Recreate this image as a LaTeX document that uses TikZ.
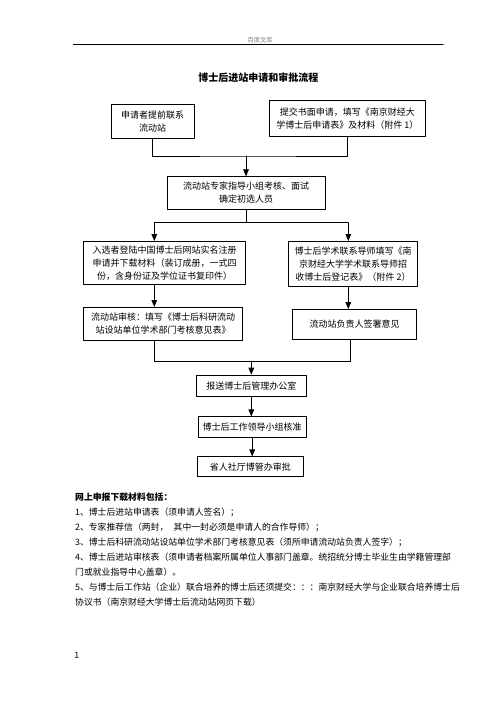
\documentclass[tikz,border=0pt]{standalone}
\usepackage{fontspec}
\setmainfont{Noto Sans CJK SC}
\usetikzlibrary{arrows}
\usetikzlibrary{positioning}
\begin{document}
\begin{tikzpicture}[line cap=round,line join=round,>=triangle 45,x=1.2pt,y=-1.2pt,
  box/.style={draw,line width=0.9pt,inner sep=1pt,align=center,font=\fontsize{10.8}{15.5}\selectfont},
  link/.style={line width=0.9pt}]
\useasboundingbox (0,0) rectangle (496,702);
\node (hdr) at (260,40) {\color{gray}\fontsize{7.5}{8}\selectfont 百度文库};
\draw[line width=0.8pt] (73.3,44.3) -- (443.3,44.3);
\node (title) at (258.3,77.3) {\bfseries\fontsize{12}{14}\selectfont 博士后进站申请和审批流程};
% boxes of the flow
\node[box,minimum width=100pt,minimum height=41.2pt] (contact) at (152.7,121.2) {申请者提前联系\\流动站};
\node[box,minimum width=188pt,minimum height=44pt] (apply) at (347.3,118.3) {提交书面申请，填写《南京财经大\\学博士后申请表》及材料（附件 1）};
\node[box,minimum width=189.6pt,minimum height=38.8pt] (panel) at (246,192.8) {流动站专家指导小组考核、面试\\确定初选人员};
\node[box,minimum width=194.8pt,minimum height=51.6pt] (register) at (164.5,262.8) {入选者登陆中国博士后网站实名注册\\申请并下载材料（装订成册，一式四\\份，含身份证及学位证书复印件）};
\node[box,minimum width=155.2pt,minimum height=54.5pt] (tutor) at (353,264) {博士后学术联系导师填写《南\\京财经大学学术联系导师招\\收博士后登记表》（附件 2）};
\node[box,minimum width=191.2pt,minimum height=40.1pt] (audit) at (163,324) {流动站审核：填写《博士后科研流动\\站设站单位学术部门考核意见表》};
\node[box,minimum width=149.2pt,minimum height=35.6pt] (sign) at (354.5,324.2) {流动站负责人签署意见};
\node[box,minimum width=132.8pt,minimum height=26pt] (office) at (251.3,385.8) {报送博士后管理办公室};
\node[box,minimum width=129.2pt,minimum height=24.7pt] (group) at (252.2,427) {博士后工作领导小组核准};
\node[box,minimum width=127.2pt,minimum height=24pt] (province) at (250.3,466.7) {省人社厅博管办审批};
% joints
\coordinate (j1) at (246,156);
\coordinate (j2) at (246,222.7);
\coordinate (j2l) at (154.3,222.7);
\coordinate (j2r) at (348.3,222.7);
\coordinate (j3) at (251.3,361);
\coordinate (j3l) at (154.3,361);
\coordinate (j3r) at (350.3,361);
% connectors
\draw[link] (contact.south) |- (j1) -| (apply.south);
\draw[link,->] (j1) -- (panel.north);
\draw[link] (panel.south) -- (j2);
\draw[link] (j2l) -- (j2r);
\draw[link,->] (j2l) -- (j2l |- register.north);
\draw[link,->] (j2r) -- (j2r |- tutor.north);
\draw[link,->] (j2l |- register.south) -- (j2l |- audit.north);
\draw[link,->] (j2r |- tutor.south) -- (j2r |- sign.north);
\draw[link] (j2l |- audit.south) -- (j3l) -- (j3r) -- (j3r |- sign.south);
\draw[link,->] (j3) -- (j3 |- office.north);
\draw[link,->] (office.south) -- (office.south |- group.north);
\draw[link,->] (group.south) -- (group.south |- province.north);
% list of materials
\node[anchor=north west,inner sep=0pt,align=left,font=\fontsize{10.6}{18}\selectfont] (materials) at (75,492.5) {\textbf{网上申报下载材料包括：}\\
1、博士后进站申请表（须申请人签名）；\\
2、专家推荐信（两封，\hspace{0.6em}其中一封必须是申请人的合作导师）；\\
3、博士后科研流动站设站单位学术部门考核意见表（须所申请流动站负责人签字）；\\
4、博士后进站审核表（须申请者档案所属单位人事部门盖章。统招统分博士毕业生由学籍管理部\\
门或就业指导中心盖章）。\\
5、与博士后工作站（企业）联合培养的博士后还须提交：：：南京财经大学与企业联合培养博士后\\
协议书（南京财经大学博士后流动站网页下载）};
\node (page) at (76.7,655) {\fontsize{10.4}{12}\selectfont 1};
\end{tikzpicture}
\end{document}
